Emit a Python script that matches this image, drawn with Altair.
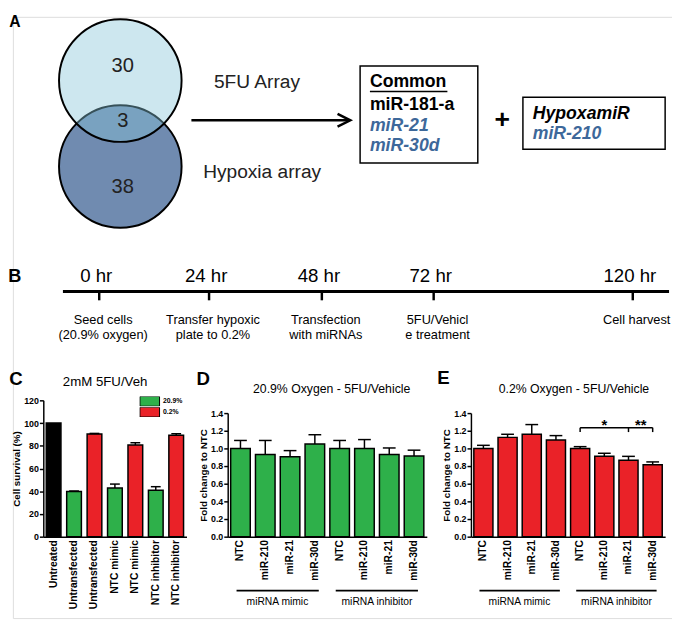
import altair as alt
import pandas as pd

# ======================= DATA =======================
# Panel A
venn_counts = [30, 3, 38]                      # 5FU only, shared, hypoxia only
venn_sets = ["5FU Array", "Hypoxia array"]
common_header = "Common"
common_mirs = ["miR-181-a", "miR-21", "miR-30d"]
common_selected = [False, True, True]
hypoxamir_header = "HypoxamiR"
hypoxamir_mirs = ["miR-210"]

# Panel B
timeline_hours = [0, 24, 48, 72, 120]
timeline_steps = [
    ["Seed cells", "(20.9% oxygen)"],
    ["Transfer hypoxic", "plate to 0.2%"],
    ["Transfection", "with miRNAs"],
    ["5FU/Vehicl", "e treatment"],
    ["Cell harvest"],
]

# Panel C
c_title = "2mM 5FU/Veh"
c_labels = ["Untreated", "Untransfected", "Untransfected", "NTC mimic",
            "NTC mimic", "NTC inhibitor", "NTC inhibitor"]
c_oxygen = ["Untreated", "20.9%", "0.2%", "20.9%", "0.2%", "20.9%", "0.2%"]
c_values = [100, 39.8, 90.3, 42.8, 80.7, 40.8, 89.2]
c_errors = [0, 0.4, 0.6, 3.5, 2.0, 3.2, 1.4]
c_legend = ["20.9%", "0.2%"]

# Panels D and E
de_groups = ["miRNA mimic", "miRNA inhibitor"]
de_mirs = ["NTC", "miR-210", "miR-21", "miR-30d"]
d_title = "20.9% Oxygen - 5FU/Vehicle"
d_values = [1.00, 0.93, 0.905, 1.05, 1.00, 1.00, 0.93, 0.915]
d_errors = [0.09, 0.16, 0.07, 0.105, 0.09, 0.10, 0.075, 0.065]
e_title = "0.2% Oxygen - 5FU/Vehicle"
e_values = [1.00, 1.125, 1.16, 1.095, 1.00, 0.91, 0.865, 0.815]
e_errors = [0.035, 0.035, 0.11, 0.05, 0.02, 0.035, 0.045, 0.032]
e_significance = [["NTC", "miR-21", "*"], ["miR-21", "miR-30d", "**"]]

# ======================= STYLE / LAYOUT =======================
FONT = "Liberation Sans, Arial, Helvetica, sans-serif"
GREEN = "#2eb04a"
RED = "#ea2228"
BLUE_TXT = "#3d689a"
VENN_TOP = "#85c4d8"
VENN_BOTTOM = "#708bb0"

W, H = 672, 613          # plot area = whole page minus 8px margin
OFF = 8                  # page margin; layout numbers below are page pixels


def P(v):
    return v - OFF


PX_X = alt.Scale(domain=[OFF, OFF + W], range=[0, W])
PX_Y = alt.Scale(domain=[OFF, OFF + H], range=[0, H])


def ptext(rows, **mk):
    df = pd.DataFrame(rows, columns=["t", "x", "y"])
    props = dict(font=FONT, color="black")
    props.update(mk)
    return alt.Chart(df).mark_text(**props).encode(
        x=alt.X("x:Q", scale=PX_X, axis=None),
        y=alt.Y("y:Q", scale=PX_Y, axis=None),
        text="t:N",
    )


def prule(rows, **mk):
    df = pd.DataFrame(rows, columns=["x", "x2", "y", "y2"])
    props = dict(color="black")
    props.update(mk)
    return alt.Chart(df).mark_rule(**props).encode(
        x=alt.X("x:Q", scale=PX_X, axis=None), x2="x2:Q",
        y=alt.Y("y:Q", scale=PX_Y, axis=None), y2="y2:Q",
    )


def prect(rows, **mk):
    df = pd.DataFrame(rows, columns=["x", "x2", "y", "y2"])
    return alt.Chart(df).mark_rect(**mk).encode(
        x=alt.X("x:Q", scale=PX_X, axis=None), x2="x2:Q",
        y=alt.Y("y:Q", scale=PX_Y, axis=None), y2="y2:Q",
    )


layers = []

# ---------------- Panel A ----------------
VENN_R = 70.5
venn_centers = {"5FU Array": (117.5, 73), "Hypoxia array": (117.5, 160.5)}
venn_df = pd.DataFrame({
    "set": venn_sets,
    "x": [venn_centers[s][0] for s in venn_sets],
    "y": [venn_centers[s][1] for s in venn_sets],
})
circ_size = 3.14159 * VENN_R ** 2
layers.append(alt.Chart(venn_df[venn_df.set == "Hypoxia array"]).mark_point(
    shape="circle", filled=True, fill=VENN_BOTTOM, stroke="black", strokeWidth=2,
    size=circ_size, opacity=1).encode(
    x=alt.X("x:Q", scale=PX_X, axis=None), y=alt.Y("y:Q", scale=PX_Y, axis=None)))
layers.append(alt.Chart(venn_df[venn_df.set == "5FU Array"]).mark_point(
    shape="circle", filled=True, fill=VENN_TOP, fillOpacity=0.41, stroke="black",
    strokeOpacity=1, strokeWidth=2, size=circ_size, opacity=1).encode(
    x=alt.X("x:Q", scale=PX_X, axis=None), y=alt.Y("y:Q", scale=PX_Y, axis=None)))

count_pos = [(120, 58), (120, 114), (120, 182)]
layers.append(ptext([[str(c), x, y] for c, (x, y) in zip(venn_counts, count_pos)],
                    fontSize=20.5, color="#222222"))
set_pos = [(213, 75), (202, 166)]
layers.append(ptext([[s, x, y] for s, (x, y) in zip(venn_sets, set_pos)],
                    fontSize=19.5, align="left", color="#222222"))
layers.append(ptext([["A", 10, 13]], fontSize=16, fontWeight="bold"))

# arrow
layers.append(prule([[190, 351, 113.5, 113.5]], strokeWidth=2.5))
layers.append(alt.Chart(pd.DataFrame({"x": [352], "y": [113.5]})).mark_point(
    shape="M-2,-1L0,0L-2,1", filled=False, stroke="black", strokeWidth=2.5,
    size=169, opacity=1).encode(
    x=alt.X("x:Q", scale=PX_X, axis=None), y=alt.Y("y:Q", scale=PX_Y, axis=None)))

# boxes
layers.append(prect([[362, 482, 58, 157], [528, 673, 90, 143]],
                    fill="white", stroke="black", strokeWidth=1.5))
BOX_TX = 372
LINE_Y = [75, 97.5, 119, 140]
BOX_FS = 18
layers.append(ptext([[common_header, BOX_TX, LINE_Y[0]]], fontSize=BOX_FS,
                    fontWeight="bold", align="left"))
layers.append(prule([[BOX_TX, 451, 84, 84]], strokeWidth=1.5))
plain = [[m, BOX_TX, LINE_Y[i + 1]] for i, m in enumerate(common_mirs) if not common_selected[i]]
chosen = [[m, BOX_TX, LINE_Y[i + 1]] for i, m in enumerate(common_mirs) if common_selected[i]]
layers.append(ptext(plain, fontSize=BOX_FS, fontWeight="bold", align="left"))
layers.append(ptext(chosen, fontSize=BOX_FS, fontWeight="bold", fontStyle="italic",
                    align="left", color=BLUE_TXT))
layers.append(ptext([["+", 507, 113]], fontSize=27, fontWeight="bold"))
layers.append(ptext([[hypoxamir_header, 538, 107]], fontSize=BOX_FS, fontWeight="bold",
                    fontStyle="italic", align="left"))
layers.append(ptext([[m, 538, 128 + 21 * i] for i, m in enumerate(hypoxamir_mirs)],
                    fontSize=BOX_FS, fontWeight="bold", fontStyle="italic", align="left",
                    color=BLUE_TXT))

# ---------------- Panel B ----------------
TICK_PX = [96, 208, 323, 437, 640]
HOUR_X = alt.Scale(domain=timeline_hours, range=[P(v) for v in TICK_PX])
layers.append(ptext([["B", 10, 272]], fontSize=18.5, fontWeight="bold"))
layers.append(prule([[59, 677, 288, 288]], strokeWidth=3))
hours_df = pd.DataFrame({"hour": timeline_hours,
                         "label": [f"{h} hr" for h in timeline_hours]})
layers.append(alt.Chart(hours_df).mark_rule(color="black", strokeWidth=2.5).encode(
    x=alt.X("hour:Q", scale=HOUR_X, axis=None),
    y=alt.value(P(288)), y2=alt.value(P(297))))
layers.append(alt.Chart(hours_df).mark_text(font=FONT, fontSize=19, dx=-3,
                                            color="black").encode(
    x=alt.X("hour:Q", scale=HOUR_X, axis=None), y=alt.value(P(272)),
    text="label:N"))
desc_rows = []
for h, lines in zip(timeline_hours, timeline_steps):
    for k, ln in enumerate(lines):
        desc_rows.append({"hour": h, "line": k, "text": ln, "y": 317 + 15.5 * k})
desc_df = pd.DataFrame(desc_rows)
layers.append(alt.Chart(desc_df).mark_text(font=FONT, fontSize=13, dx=4,
                                           color="black").encode(
    x=alt.X("hour:Q", scale=HOUR_X, axis=None),
    y=alt.Y("y:Q", scale=PX_Y, axis=None), text="text:N"))


# ---------------- bar panels helpers ----------------
def band(keys, left, right, pin, pout):
    return alt.Scale(domain=keys, range=[P(left), P(right)],
                     paddingInner=pin, paddingOuter=pout)


def step_of(n, left, right, pin, pout):
    return (right - left) / (n - pin + 2 * pout)


def y_axis(axis_x, values, fmt, title, tpad):
    return alt.Axis(orient="left", offset=-P(axis_x), values=values, format=fmt,
                    title=title, labelFont=FONT, labelFontSize=9,
                    labelFontWeight="bold", labelColor="black", labelPadding=1,
                    tickSize=4, tickWidth=1.5, tickColor="black",
                    domainColor="black", domainWidth=1.5, titleFont=FONT,
                    titleFontSize=10, titleFontWeight="bold", titleColor="black",
                    titlePadding=tpad, grid=False)


def x_axis(axis_y, fs):
    return alt.Axis(orient="bottom", offset=P(axis_y) - H, labelAngle=270,
                    labelExpr="split(datum.value, '|')[1]", ticks=False,
                    title=None, labelFont=FONT, labelFontSize=fs,
                    labelFontWeight="bold", labelColor="black", labelPadding=3,
                    domainColor="black", domainWidth=1.5, grid=False,
                    labelOverlap=False)


def bar_layers(df, xs, ys, xax, yax, color, cap):
    out = [alt.Chart(df).mark_bar(stroke="black", strokeWidth=1.5).encode(
        x=alt.X("key:N", scale=xs, axis=xax, sort=None),
        y=alt.Y("value:Q", scale=ys, axis=yax),
        color=color)]
    edf = df[df.err > 0]
    out.append(alt.Chart(edf).mark_rule(color="black", strokeWidth=1.5).encode(
        x=alt.X("key:N", scale=xs, axis=None, sort=None),
        y=alt.Y("value:Q", scale=ys, axis=None), y2="hi:Q"))
    out.append(alt.Chart(edf).mark_tick(color="black", thickness=1.5, size=cap,
                                        opacity=1).encode(
        x=alt.X("key:N", scale=xs, axis=None, sort=None),
        y=alt.Y("hi:Q", scale=ys, axis=None)))
    return out


AXIS_Y = 538

# ---------------- Panel C ----------------
c_df = pd.DataFrame({
    "key": [f"{i}|{l}" for i, l in enumerate(c_labels)],
    "oxygen": c_oxygen, "value": c_values, "err": c_errors,
})
c_df["hi"] = c_df.value + c_df.err
CX = band(list(c_df.key), 39, 185, 0.28, 0.144)
CY = alt.Scale(domain=[0, 120], range=[P(AXIS_Y), P(399)], nice=False)
c_color = alt.Color("oxygen:N", scale=alt.Scale(domain=c_legend + ["Untreated"],
                                                range=[GREEN, RED, "black"]),
                    legend=alt.Legend(values=c_legend, orient="none",
                                      legendX=P(137), legendY=P(395), title=None,
                                      symbolType="M-1,-0.5H1V0.5H-1Z",
                                      symbolSize=400, symbolStrokeColor="black",
                                      symbolStrokeWidth=1, symbolOpacity=1,
                                      clipHeight=10, rowPadding=1, padding=0,
                                      labelFont=FONT, labelFontSize=7,
                                      labelFontWeight="bold", labelColor="black",
                                      labelOffset=3))
layers += bar_layers(c_df, CX, CY, x_axis(AXIS_Y, 10.5),
                     y_axis(39, [0, 20, 40, 60, 80, 100, 120], "d",
                            "Cell survival (%)", 2),
                     c_color, 10)
layers.append(ptext([["C", 11, 377], ["D", 202, 377], ["E", 447, 376]],
                    fontSize=19, fontWeight="bold"))
layers.append(ptext([[c_title, 102, 380]], fontSize=13.5))
layers.append(ptext([[d_title, 333, 388], [e_title, 580, 388]], fontSize=12.5))

# ---------------- Panels D, E ----------------
de_keys = [f"{g}|{m}" for g in de_groups for m in de_mirs]
DE_Y_TICKS = [0, 0.2, 0.4, 0.6, 0.8, 1.0, 1.2, 1.4]


def de_panel(values, errors, fill, axis_x, left, right, title_pad):
    df = pd.DataFrame({"key": de_keys, "value": values, "err": errors})
    df["hi"] = df.value + df.err
    xs = band(de_keys, left, right, 0.21, 0.12)
    ys = alt.Scale(domain=[0, 1.4], range=[P(AXIS_Y), P(412)], nice=False)
    out = bar_layers(df, xs, ys, x_axis(AXIS_Y, 10.5),
                     y_axis(axis_x, DE_Y_TICKS, ".1f", "Fold change to NTC",
                            title_pad),
                     alt.value(fill), 13)
    st = step_of(len(de_keys), left, right, 0.21, 0.12)
    gdf = pd.DataFrame({
        "group": de_groups,
        "first": [f"{g}|{de_mirs[0]}" for g in de_groups],
        "last": [f"{g}|{de_mirs[-1]}" for g in de_groups],
        "mid": [f"{g}|{de_mirs[1]}" for g in de_groups],
    })
    out.append(alt.Chart(gdf).mark_rule(color="black", strokeWidth=2,
                                        xOffset=-4, x2Offset=4).encode(
        x=alt.X("first:N", scale=xs, axis=None), x2="last:N",
        y=alt.value(P(593))))
    out.append(alt.Chart(gdf).mark_text(font=FONT, fontSize=10.5, color="black",
                                        dx=st / 2).encode(
        x=alt.X("mid:N", scale=xs, axis=None), y=alt.value(P(605)),
        text="group:N"))
    return out, xs, ys, st


d_layers, DX, DY, d_step = de_panel(d_values, d_errors, GREEN, 227, 227, 430, 2)
e_layers, EX, EY, e_step = de_panel(e_values, e_errors, RED, 475, 475, 673, 2)
layers += d_layers + e_layers

# significance bracket in E (inhibitor group)
BR_LEVEL, BR_DROP = 1.235, 0.05
g_inh = de_groups[1]
br_keys = sorted({k for a, b, _ in e_significance for k in (a, b)},
                 key=de_mirs.index)
br_df = pd.DataFrame({"first": [f"{g_inh}|{br_keys[0]}"],
                      "last": [f"{g_inh}|{br_keys[-1]}"], "lev": [BR_LEVEL]})
layers.append(alt.Chart(br_df).mark_rule(color="black", strokeWidth=1.5).encode(
    x=alt.X("first:N", scale=EX, axis=None), x2="last:N",
    y=alt.Y("lev:Q", scale=EY, axis=None)))
drop_df = pd.DataFrame({"key": [f"{g_inh}|{k}" for k in br_keys],
                        "lev": BR_LEVEL, "low": BR_LEVEL - BR_DROP})
layers.append(alt.Chart(drop_df).mark_rule(color="black", strokeWidth=1.5).encode(
    x=alt.X("key:N", scale=EX, axis=None),
    y=alt.Y("lev:Q", scale=EY, axis=None), y2="low:Q"))
for a, b, star in e_significance:
    span = de_mirs.index(b) - de_mirs.index(a)
    sdf = pd.DataFrame({"key": [f"{g_inh}|{a}"], "lev": [BR_LEVEL], "s": [star]})
    layers.append(alt.Chart(sdf).mark_text(font=FONT, fontSize=15, fontWeight="bold",
                                           color="black", dx=span * e_step / 2,
                                           baseline="bottom", dy=5).encode(
        x=alt.X("key:N", scale=EX, axis=None),
        y=alt.Y("lev:Q", scale=EY, axis=None), text="s:N"))

chart = alt.layer(*layers).resolve_scale(
    x="independent", y="independent", color="independent"
).properties(width=W, height=H, padding=0).configure_view(stroke=None).configure(
    font=FONT)

chart.save("out.html", embed_options={"renderer": "svg", "actions": False})
